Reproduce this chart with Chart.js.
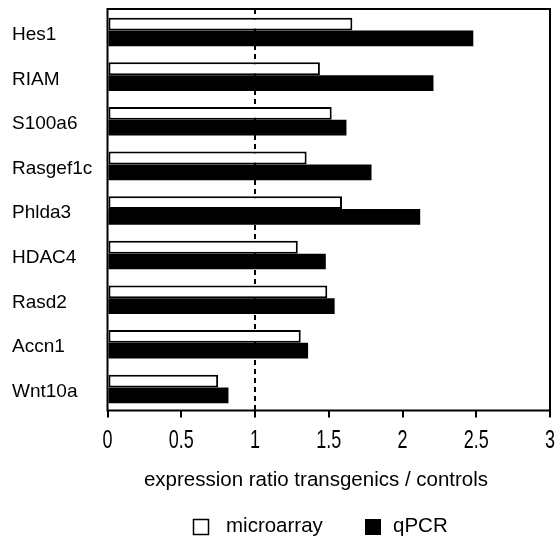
<!DOCTYPE html>
<html lang="en">
<head>
  <meta charset="UTF-8">
  <title>Expression ratio transgenics / controls</title>
  <style>
    html, body {
      margin: 0;
      padding: 0;
      background-color: #ffffff;
      overflow: hidden;
    }
    #wrap {
      width: 557px;
      height: 536px;
    }
  </style>
</head>
<body>

  <div id="wrap"><canvas id="ratioChart" width="557" height="536"></canvas></div>

  <!-- Chart.js -->
  <script src="https://cdn.jsdelivr.net/npm/chart.js"></script>

  <script>
    // values
    const genes = ["Hes1", "RIAM", "S100a6", "Rasgef1c", "Phlda3", "HDAC4", "Rasd2", "Accn1", "Wnt10a"];
    const microarray = [1.66, 1.44, 1.52, 1.35, 1.59, 1.29, 1.49, 1.31, 0.75];
    const qpcr = [2.48, 2.21, 1.62, 1.79, 2.12, 1.48, 1.54, 1.36, 0.82];
    const xTicks = ["0", "0.5", "1", "1.5", "2", "2.5", "3"];
    const refLine = 1;
    const axisTitle = "expression ratio transgenics / controls";

    const FONT = "Arial, 'Liberation Sans', sans-serif";

    // dashed line at ratio 1, drawn under the bars
    const refLinePlugin = {
      id: "refLine",
      beforeDatasetsDraw(chart) {
        const ctx = chart.ctx;
        const area = chart.chartArea;
        const x = chart.scales.x.getPixelForValue(refLine);
        ctx.save();
        ctx.strokeStyle = "#000";
        ctx.lineWidth = 2;
        ctx.setLineDash([5, 4]);
        ctx.beginPath();
        ctx.moveTo(x, area.top);
        ctx.lineTo(x, area.bottom);
        ctx.stroke();
        ctx.restore();
      }
    };

    // frame, labels, axis title and legend
    const decorPlugin = {
      id: "decor",
      afterDraw(chart) {
        const ctx = chart.ctx;
        const area = chart.chartArea;
        const xs = chart.scales.x;
        const ys = chart.scales.y;

        ctx.save();
        ctx.strokeStyle = "#000";
        ctx.lineWidth = 2;
        ctx.strokeRect(area.left, area.top, area.right - area.left, area.bottom - area.top);

        ctx.fillStyle = "#000";

        // gene names
        ctx.font = "19px " + FONT;
        ctx.textAlign = "left";
        ctx.textBaseline = "middle";
        genes.forEach((g, i) => {
          ctx.fillText(g, 12, ys.getPixelForValue(i) + 3.5);
        });

        // x tick labels (narrow, as in the original)
        xTicks.forEach(t => {
          ctx.save();
          ctx.translate(xs.getPixelForValue(parseFloat(t)), area.bottom + 31);
          ctx.scale(0.72, 1);
          ctx.font = "25px " + FONT;
          ctx.textAlign = "center";
          ctx.textBaseline = "middle";
          ctx.fillText(t, 0, 0);
          ctx.restore();
        });

        // axis title
        ctx.font = "20.5px " + FONT;
        ctx.textAlign = "center";
        ctx.textBaseline = "middle";
        ctx.fillText(axisTitle, 316, area.bottom + 70);

        // legend
        const ly = 527;
        ctx.lineWidth = 1.5;
        ctx.fillStyle = "#fff";
        ctx.fillRect(193.5, ly - 7.5, 15, 15);
        ctx.strokeRect(193.5, ly - 7.5, 15, 15);
        ctx.fillStyle = "#000";
        ctx.fillRect(365, ly - 8, 16, 16);
        ctx.textAlign = "left";
        ctx.fillText(chart.data.datasets[0].label, 226, ly - 1);
        ctx.fillText(chart.data.datasets[1].label, 393, ly - 1);
        ctx.restore();
      }
    };

    new Chart(document.getElementById("ratioChart").getContext("2d"), {
      type: "bar",
      data: {
        labels: genes,
        datasets: [
          {
            label: "microarray",
            data: microarray,
            backgroundColor: "#ffffff",
            borderColor: "#000000",
            borderWidth: 2,
            borderSkipped: false,
            barPercentage: 0.9
          },
          {
            label: "qPCR",
            data: qpcr,
            backgroundColor: "#000000",
            borderWidth: 0,
            barPercentage: 1.1
          }
        ]
      },
      options: {
        indexAxis: "y",
        responsive: false,
        animation: false,
        events: [],
        layout: {
          padding: { left: 12, top: 9, right: 7, bottom: 0 }
        },
        datasets: {
          bar: { categoryPercentage: 0.64 }
        },
        scales: {
          x: {
            min: 0,
            max: 3,
            ticks: { display: false, stepSize: 0.5 },
            grid: {
              display: true,
              drawOnChartArea: false,
              drawTicks: true,
              tickLength: 7,
              color: "#000",
              lineWidth: 2
            },
            border: { display: false },
            afterFit: s => { s.height = 125.5; }
          },
          y: {
            ticks: { display: false },
            grid: { display: false },
            border: { display: false },
            afterFit: s => { s.width = 95.5; }
          }
        },
        plugins: {
          legend: { display: false },
          tooltip: { enabled: false }
        }
      },
      plugins: [refLinePlugin, decorPlugin]
    });
  </script>

</body>
</html>
